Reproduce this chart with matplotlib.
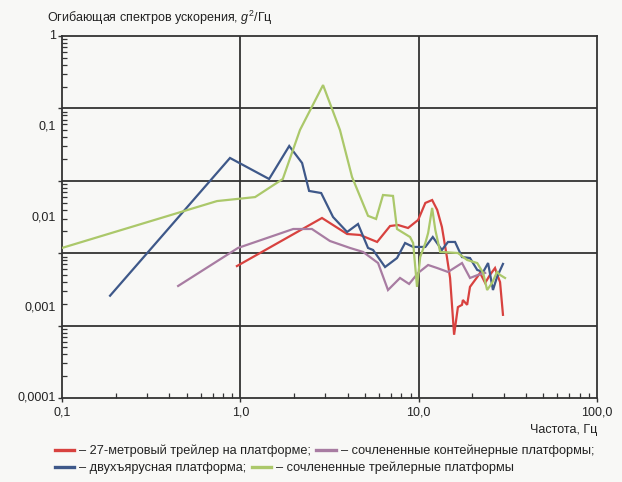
import numpy as np
import matplotlib
import matplotlib.pyplot as plt
from matplotlib.ticker import FixedLocator, NullFormatter

matplotlib.use('agg')
plt.rcParams.update({
    'font.family': ['Liberation Sans', 'DejaVu Sans'],
    'font.size': 9,
    'mathtext.fontset': 'custom',
    'mathtext.rm': 'Liberation Sans',
    'mathtext.it': 'Liberation Sans:italic',
})

# 27-метровый трейлер на платформе
red_f = [0.957, 2.87, 3.97, 4.69, 5.85, 6.91, 7.66, 8.72, 9.93, 10.9, 11.9,
         12.7, 13.5, 14.4, 15.0, 15.8, 16.6, 17.5, 17.7, 18.7, 19.4, 21.3,
         22.1, 23.6, 25.1, 26.8, 27.9, 28.6, 29.7]
red_g = [0.00287, 0.00975, 0.00649, 0.00633, 0.00530, 0.00795, 0.00816,
         0.00756, 0.00927, 0.0143, 0.0154, 0.0120, 0.00776, 0.00361, 0.00212,
         0.00050, 0.00101, 0.00107, 0.00121, 0.00107, 0.00169, 0.00217,
         0.00241, 0.00187, 0.00229, 0.00273, 0.00217, 0.00191, 0.00083]

# сочлененные контейнерные платформы
purple_f = [0.448, 0.97, 1.98, 2.52, 3.18, 4.12, 4.88, 5.92, 6.73, 7.86, 8.84,
            9.93, 11.3, 12.7, 14.6, 17.5, 19.4, 21.5, 23.6]
purple_g = [0.00173, 0.00455, 0.00737, 0.00737, 0.00543, 0.00455, 0.00411,
            0.00310, 0.00156, 0.00212, 0.00182, 0.00241, 0.00295, 0.00273,
            0.00247, 0.00310, 0.00212, 0.00229, 0.00241]

# двухъярусная платформа
blue_f = [0.186, 0.875, 1.45, 1.88, 2.22, 2.43, 2.84, 3.31, 3.97, 4.57, 5.20,
          5.55, 6.48, 7.56, 8.39, 9.31, 10.9, 12.0, 13.5, 14.6, 16.0, 17.5,
          19.4, 21.3, 23.0, 24.5, 26.1, 27.5, 29.7]
blue_g = [0.00135, 0.0449, 0.0263, 0.0609, 0.0395, 0.0194, 0.0184, 0.0100,
          0.00683, 0.00837, 0.00455, 0.00432, 0.00280, 0.00352, 0.00516,
          0.00467, 0.00467, 0.00601, 0.00432, 0.00530, 0.00530, 0.00361,
          0.00352, 0.00260, 0.00247, 0.00310, 0.00156, 0.00217, 0.00303]

# сочлененные трейлерные платформы
green_f = [0.1, 0.740, 1.21, 1.73, 2.16, 2.91, 3.62, 4.23, 5.20, 5.77, 6.31,
           7.18, 7.56, 8.95, 9.31, 9.79, 10.2, 10.9, 11.3, 11.9, 12.4, 13.2,
           16.6, 18.7, 21.3, 23.0, 24.2, 25.8, 27.5, 28.6, 30.5]
green_g = [0.00455, 0.0150, 0.0166, 0.0263, 0.0915, 0.287, 0.0915, 0.0277,
           0.0103, 0.00951, 0.0175, 0.0171, 0.00737, 0.00601, 0.00516,
           0.00169, 0.00361, 0.00516, 0.00666, 0.0126, 0.00718, 0.00411,
           0.00400, 0.00335, 0.00310, 0.00241, 0.00156, 0.00187, 0.00247,
           0.00229, 0.00212]

x_ticks = [0.1, 1, 10, 100]
x_labels = ['0,1', '1,0', '10,0', '100,0']
y_ticks = [1, 0.1, 0.01, 0.001, 0.0001]
y_labels = ['1', '0,1', '0,01', '0,001', '0,0001']

labels = ['– 27-метровый трейлер на платформе;',
          '– сочлененные контейнерные платформы;',
          '– двухъярусная платформа;',
          '– сочлененные трейлерные платформы']
colors = ['#d8423f', '#a87ca2', '#3e5889', '#abc86a']

BG = '#f8f8f6'
GRID = '#333333'

fig = plt.figure(figsize=(6.22, 4.82), dpi=100, facecolor=BG)
ax = fig.add_axes([62 / 622, 1 - 398 / 482, 535 / 622, 362 / 482])
ax.set_facecolor(BG)
ax.set_xscale('log')
ax.set_yscale('log')
ax.set_xlim(0.1, 100)
ax.set_ylim(1e-4, 1)

# the original's horizontal grid splits the height into 5 "decades"
band = 4 / 5
grid_y = [10 ** (-band * k) for k in range(1, 5)]
minor_y = [10 ** (-band * (k + 1) + band * np.log10(m))
           for k in range(5) for m in range(2, 10)]

ax.set_yticks(grid_y + [1, 1e-4])
ax.yaxis.set_major_formatter(NullFormatter())
ax.yaxis.set_minor_locator(FixedLocator(minor_y))
ax.yaxis.set_minor_formatter(NullFormatter())
ax.set_xticks(x_ticks)
ax.set_xticklabels(x_labels)
ax.xaxis.set_minor_locator(FixedLocator(
    [m * 10.0 ** e for e in (-1, 0, 1) for m in range(2, 10)]))
ax.xaxis.set_minor_formatter(NullFormatter())

ax.tick_params(which='major', direction='out', length=3, width=1,
               color=GRID, labelsize=9, labelcolor='#222222', pad=3)
ax.tick_params(which='minor', direction='in', length=3.5, width=0.9,
               color=GRID)

for v in grid_y:
    ax.axhline(v, color=GRID, lw=1.3, zorder=1)
for v in x_ticks[1:3]:
    ax.axvline(v, color=GRID, lw=1.3, zorder=1)
for s in ax.spines.values():
    s.set_color(GRID)
    s.set_linewidth(1.3)

ytr = ax.get_yaxis_transform()
for v, lab in zip(y_ticks, y_labels):
    ax.text(-0.012, v, lab, transform=ytr, ha='right', va='center',
            fontsize=9, color='#222222')

series = [(red_f, red_g), (purple_f, purple_g),
          (blue_f, blue_g), (green_f, green_g)]
handles = []
for (f, g), c, lab in zip(series, colors, labels):
    h, = ax.plot(f, g, color=c, lw=1.6, label=lab, zorder=3,
                 solid_joinstyle='miter')
    handles.append(h)

fig.text(47 / 622, 1 - 18 / 482,
         'Огибающая спектров ускорения, $g^2$/Гц',
         ha='left', va='center', fontsize=9, color='#222222')
fig.text(597 / 622, 1 - 430 / 482, 'Частота, Гц', ha='right',
         va='center', fontsize=9, color='#222222')

leg_kw = dict(ncol=2, frameon=False, fontsize=9.2, handlelength=1.5,
              handletextpad=0.4, columnspacing=0.4, borderaxespad=0,
              borderpad=0, loc='center left')
fig.legend(handles[:2], labels[:2],
           bbox_to_anchor=(55 / 622, 1 - 451 / 482), **leg_kw)
fig.legend(handles[2:], labels[2:],
           bbox_to_anchor=(55 / 622, 1 - 468 / 482), **leg_kw)
for lg in fig.legends:
    for t in lg.get_texts():
        t.set_color('#222222')
    for ln in lg.get_lines():
        ln.set_linewidth(2.4)

fig.savefig('out.png', dpi=100, facecolor=BG)
